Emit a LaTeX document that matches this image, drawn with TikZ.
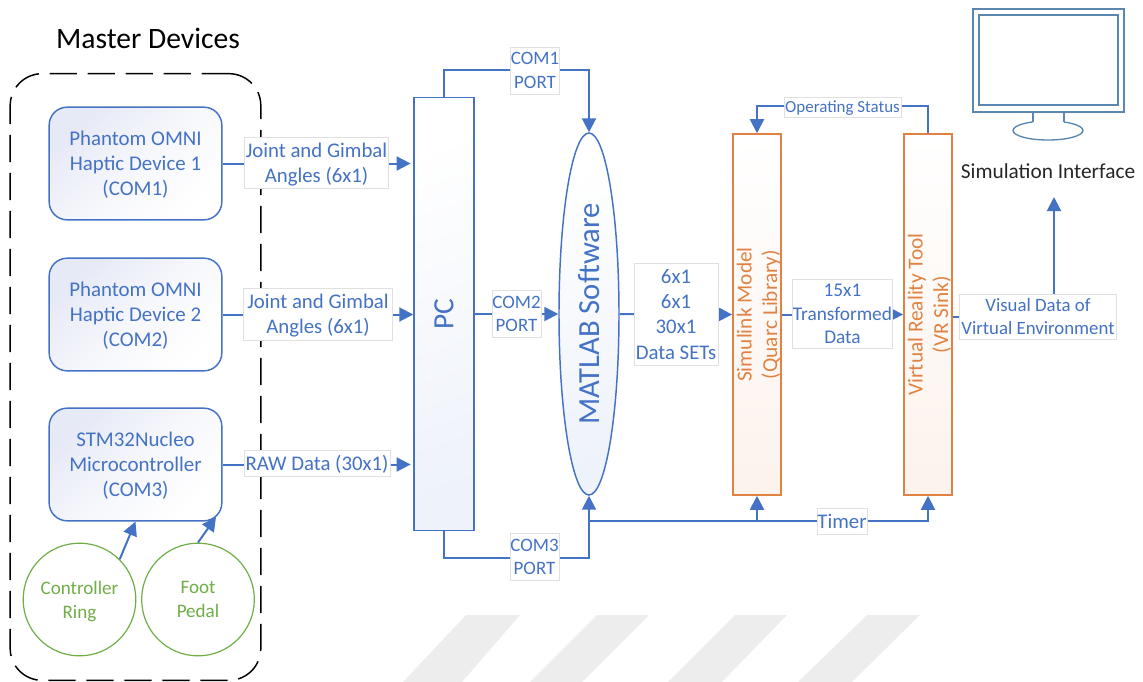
\documentclass[tikz,border=0pt]{standalone}
\usepackage{fontspec}
\setmainfont{Carlito}
\usetikzlibrary{arrows.meta, positioning, shapes.geometric}
\definecolor{dblue}{HTML}{4472C4}
\definecolor{dorange}{HTML}{E08243}
\definecolor{dgreen}{HTML}{70AD47}
\definecolor{dsteel}{HTML}{5B87AE}
\definecolor{lblue}{HTML}{E6E9F6}
\definecolor{mblue}{HTML}{F6F7FC}
\tikzset{
  bluebox/.style   = {rectangle, draw=dblue, line width=1.1pt, rounded corners=13.5pt,
                      top color=lblue, bottom color=white, middle color=mblue, shading angle=45,
                      text=dblue, align=center, font=\fontsize{15.7}{18.75}\selectfont,
                      text depth=0pt,
                      minimum width=129.5pt, minimum height=84.5pt, inner sep=0pt},
  tallbox/.style   = {draw=dblue, line width=1.1pt, top color=white, bottom color=dblue!9,
                      shading angle=20, text=dblue, align=center, inner sep=0pt, rotate=90},
  orangebox/.style = {rectangle, draw=dorange, line width=1.4pt, top color=white,
                      bottom color=dorange!10, text=dorange, align=center, inner sep=0pt,
                      font=\fontsize{16}{19.2}\selectfont, rotate=90, text depth=0pt,
                      minimum width=270.5pt, minimum height=36pt},
  greenring/.style = {circle, draw=dgreen, line width=0.9pt, text=dgreen, align=center,
                      font=\fontsize{14.3}{18}\selectfont, minimum size=84.5pt, inner sep=0pt,
                      text depth=0pt},
  lbl/.style       = {rectangle, draw=black!12, line width=0.5pt, fill=white, text=dblue,
                      align=center, inner sep=0pt, font=\fontsize{15.6}{18.75}\selectfont,
                      text depth=0pt},
  portlbl/.style   = {lbl, font=\fontsize{14.2}{17.5}\selectfont, text depth=-2pt,
                      minimum width=37pt, minimum height=35pt},
  arr/.style       = {-{Triangle[length=10.5pt, width=10.5pt]}, draw=dblue, line width=1.5pt},
  lne/.style       = {draw=dblue, line width=1.5pt},
  monline/.style   = {draw=dsteel, line width=1pt},
  stripe/.style    = {fill=black!7},
}
\begin{document}
\begin{tikzpicture}[x=0.75pt, y=-0.75pt]
  \useasboundingbox (0,0) rectangle (1143,682);

  % faint stripes behind the diagram
  \fill[stripe] (466,615) -- (520,615) -- (462,682) -- (403,682) -- cycle;
  \fill[stripe] (597,615) -- (649,615) -- (582,682) -- (530,682) -- cycle;
  \fill[stripe] (735,615) -- (787,615) -- (722,682) -- (668,682) -- cycle;
  \fill[stripe] (867,615) -- (920,615) -- (852,682) -- (798,682) -- cycle;

  % master devices
  \node[font=\fontsize{22.2}{26}\selectfont] (mastertitle) at (148,38) {Master Devices};
  \node[draw=black, line width=1.1pt, dash pattern=on 20.5pt off 8pt, rounded corners=24pt,
        minimum width=188pt, minimum height=455pt] (master) at (135.5,377) {};

  \node[bluebox] (dev1) at (135.5,163.5) {Phantom OMNI\\Haptic Device 1\\(COM1)};
  \node[bluebox] (dev2) at (135.5,314.5) {Phantom OMNI\\Haptic Device 2\\(COM2)};
  \node[bluebox] (dev3) at (135.5,464.5) {STM32Nucleo\\Microcontroller\\(COM3)};
  \node[greenring] (ring)  at (79.5,599.5)  {Controller\\Ring};
  \node[greenring] (pedal) at (198,599.5) {Foot\\Pedal};

  % processing blocks
  \node[tallbox, rectangle, font=\fontsize{22}{26}\selectfont,
        minimum width=325pt, minimum height=45pt] (pc) at (444,314) {PC};
  \node[tallbox, ellipse, font=\fontsize{23}{26}\selectfont,
        minimum width=271.5pt, minimum height=45pt] (matlab) at (589,314) {MATLAB Software};
  \node[orangebox] (sim) at (757,314.5) {Simulink Model\\(Quarc Library)};
  \node[orangebox] (vr)  at (928,314.5) {Virtual Reality Tool\\(VR Sink)};

  % connectors
  \draw[arr] (ring.45) -- (135.5,521.5) coordinate (ringtip);
  \draw[arr] (pedal.north) -- (216,517) coordinate (pedaltip);
  \draw[arr, shorten >=2pt] (dev1.east) -- (dev1.east -| pc.north);
  \draw[arr] (dev2.east) -- (dev2.east -| pc.north);
  \draw[arr, shorten >=2pt] (dev3.east) -- (dev3.east -| pc.north);
  \draw[arr] (pc.east) -- ++(0,-26.5) -| (matlab.east);
  \draw[arr] (pc.south |- matlab.center) -- (matlab.north);
  \draw[arr] (pc.west) -- ++(0,26.5) -| (matlab.west);
  \draw[arr] (matlab.south) -- (sim.north);
  \draw[arr] (sim.south) -- (vr.north);
  \draw[arr] (vr.east) -- ++(0,-27) -| (sim.east);
  \coordinate (timerbus) at (589,521);
  \draw[arr] (timerbus) -| (vr.west);
  \draw[arr] (timerbus -| sim.west) -- (sim.west);
  \draw[lne] (timerbus) -- (timerbus -| sim.west);

  % labels on the connectors
  \node[lbl, minimum width=108pt, minimum height=38pt] (lblA) at (316.5,162.5) {Joint and Gimbal\\Angles (6x1)};
  \node[lbl, minimum width=112pt, minimum height=39pt] (lblB) at (318,314) {Joint and Gimbal\\Angles (6x1)};
  \node[lbl, minimum width=109.5pt, minimum height=19.5pt] (lblC) at (317,463) {RAW Data (30x1)};
  \node[portlbl] (com1) at (535,70.5) {COM1\\PORT};
  \node[portlbl] (com2) at (516.5,314) {COM2\\PORT};
  \node[portlbl] (com3) at (534.5,557) {COM3\\PORT};
  \node[lbl, font=\fontsize{15.6}{19}\selectfont, minimum width=63pt, minimum height=76.5pt] (dataset) at (676,314) {6x1\\6x1\\30x1\\Data SETs};
  \node[lbl, font=\fontsize{14.5}{17.5}\selectfont, text depth=-2pt, minimum width=75pt, minimum height=52pt] (transf) at (842.5,314) {15x1\\Transformed\\Data};
  \node[lbl, font=\fontsize{12.7}{14}\selectfont, minimum width=87.5pt, minimum height=15pt] (opstat) at (842.5,107) {Operating Status};
  \node[lbl, minimum width=37.5pt, minimum height=19.5pt] (timer) at (842,521) {Timer};
  \node[lbl, font=\fontsize{14.1}{17.5}\selectfont, text depth=-1pt, minimum width=118pt, minimum height=34pt] (visdata) at (1038,316.5) {Visual Data of\\Virtual Environment};
  \draw[lne] (vr.south |- visdata.west) -- (visdata.west);

  % simulation interface
  \draw[monline] (973,9) rectangle (1124,112);
  \draw[monline] (979,15) rectangle (1118,105);
  \draw[monline, fill=white] (1048,130.5) ellipse [x radius=35, y radius=9.5];
  \fill[white] (1033,112.5) rectangle (1064,123.5);
  \draw[monline] (1033,112) -- (1033,122);
  \draw[monline] (1064,112) -- (1064,122);
  \node[font=\fontsize{16}{18}\selectfont, text=black!85] (simtxt) at (1048,171) {Simulation Interface};
  \coordinate (simin) at (1054,197);
  \draw[arr] (simin |- visdata.north) -- (simin);
\end{tikzpicture}
\end{document}
